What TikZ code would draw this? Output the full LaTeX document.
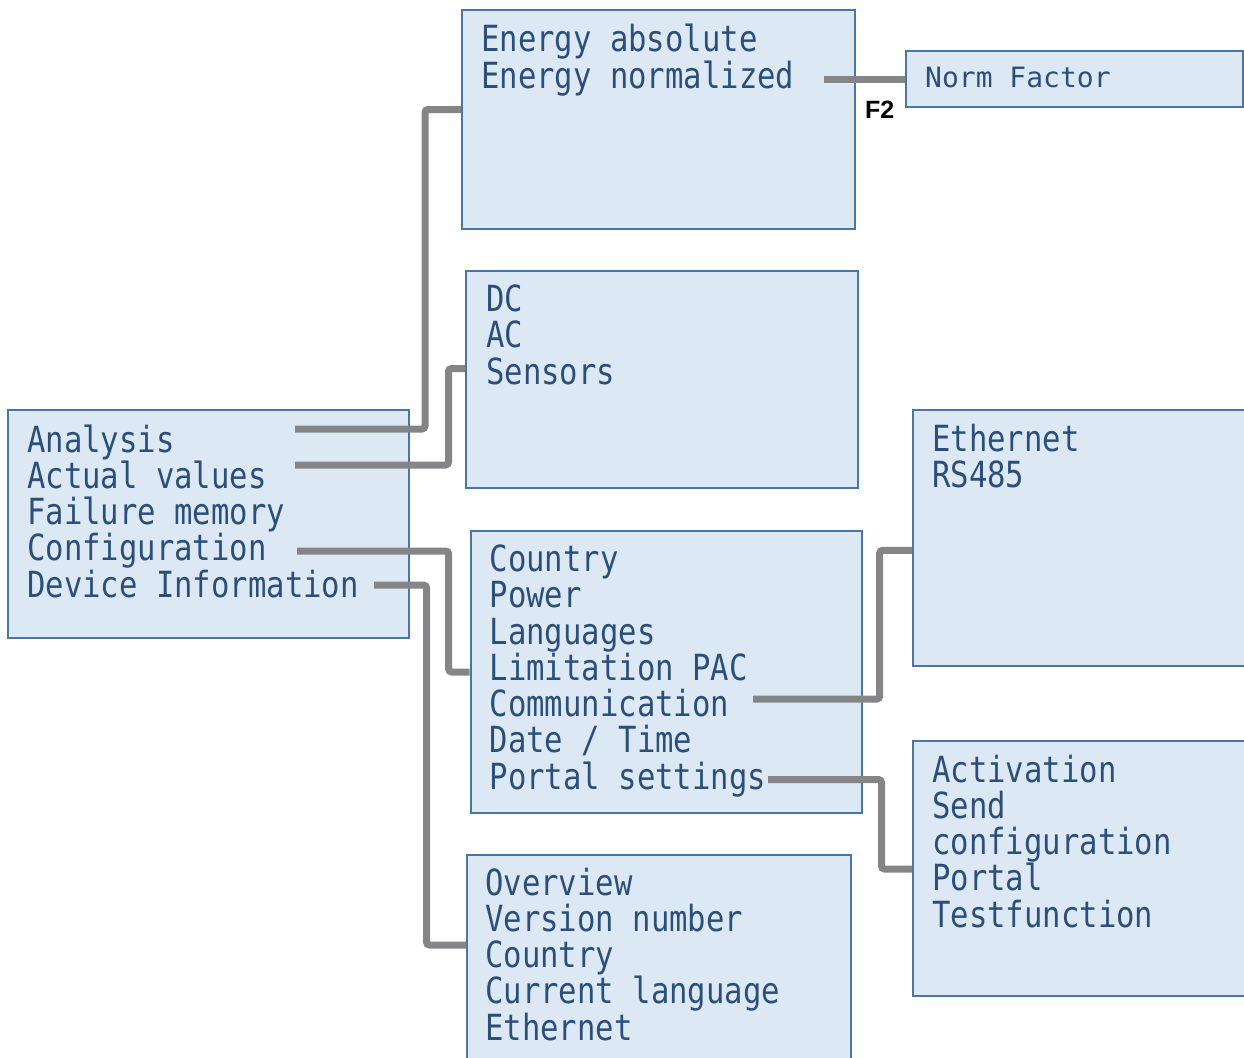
\documentclass[tikz,border=0pt]{standalone}
\usepackage{fontspec}
\usepackage{xcolor}
\usepackage{tikz}
\usetikzlibrary{positioning,calc}
\newfontfamily\lcdfont[FakeStretch=0.85]{DejaVu Sans Mono}
\newfontfamily\lcdwide{DejaVu Sans Mono}
\newfontfamily\keyfont{Liberation Sans}
\definecolor{boxline}{RGB}{74,118,164}
\definecolor{boxfill}{RGB}{221,232,245}
\definecolor{lcdtext}{RGB}{44,79,122}
\definecolor{linkgray}{RGB}{133,133,135}

\begin{document}
\begin{tikzpicture}[x=1pt, y=-1pt,
  box/.style={draw=boxline, fill=boxfill, line width=2pt, inner sep=0pt, anchor=north west},
  item/.style={font=\lcdfont\fontsize{36}{36}\selectfont, text=lcdtext, inner sep=0pt, anchor=base west},
  link/.style={draw=linkgray, line width=7pt, rounded corners=3pt}
]
\useasboundingbox (0,0) rectangle (1244,1057);
\clip (0,0) rectangle (1244,1057);
\node[box, minimum width=401pt, minimum height=228pt] (bxMain) at (7,409) {};
\node[box, minimum width=393pt, minimum height=218.5pt] (bxEnergy) at (461,9.5) {};
\node[box, minimum width=337pt, minimum height=55.5pt] (bxNorm) at (905,50.5) {};
\node[box, minimum width=392pt, minimum height=217pt] (bxValues) at (465,269.5) {};
\node[box, minimum width=391.5pt, minimum height=282.5pt] (bxConfig) at (469.5,529.5) {};
\node[box, minimum width=348pt, minimum height=256pt] (bxComm) at (912,408.5) {};
\node[box, minimum width=348pt, minimum height=255.5pt] (bxPortal) at (912,739.5) {};
\node[box, minimum width=384pt, minimum height=221.5pt] (bxInfo) at (466,853.5) {};
\foreach \t [count=\i] in {Analysis,Actual values,Failure memory,Configuration,Device Information}
  \node[item] (m\i) at (27,{452+36.25*(\i-1)}) {\t};
\foreach \t [count=\i] in {Energy absolute,Energy normalized}
  \node[item] (e\i) at (481,{52+36.25*(\i-1)}) {\t};
\foreach \t [count=\i] in {DC,AC,Sensors}
  \node[item] (v\i) at (486,{311.5+36.25*(\i-1)}) {\t};
\foreach \t [count=\i] in {Country,Power,Languages,Limitation PAC,Communication,Date / Time,Portal settings}
  \node[item] (c\i) at (489.5,{571.5+36.25*(\i-1)}) {\t};
\foreach \t [count=\i] in {Ethernet,RS485}
  \node[item] (n\i) at (932,{451+36.25*(\i-1)}) {\t};
\foreach \t [count=\i] in {Activation,Send,configuration,Portal,Testfunction}
  \node[item] (p\i) at (932,{782+36.25*(\i-1)}) {\t};
\foreach \t [count=\i] in {Overview,Version number,Country,Current language,Ethernet}
  \node[item] (d\i) at (485,{895+36.25*(\i-1)}) {\t};
\node[item, font=\lcdwide\fontsize{28}{28}\selectfont] (normf) at (925,87) {Norm Factor};
\node[inner sep=0pt, anchor=base west, font=\keyfont\bfseries\fontsize{25}{25}\selectfont] (keyF) at (865,118) {F2};
\coordinate (pAnl) at (295,429);
\coordinate (pAct) at (295,465);
\coordinate (pCfg) at (297,551);
\coordinate (pDev) at (374,585);
\coordinate (pNrm) at (824,79);
\coordinate (pCom) at (753,699);
\coordinate (pPrt) at (768,779.5);
\draw[link] (pAnl) -- ++(130,0) |- (bxEnergy.west |- 0,109.5);
\draw[link] (pAct) -- ++(153.5,0) |- (bxValues.west |- 0,368.5);
\draw[link] (pCfg) -- ++(151.7,0) |- (bxConfig.west |- 0,672);
\draw[link] (pDev) -- ++(52.5,0) |- (bxInfo.west |- 0,945);
\draw[link] (pNrm) -- (bxNorm.west |- pNrm);
\draw[link] (pCom) -- ++(126.7,0) |- (bxComm.west |- 0,550.3);
\draw[link] (pPrt) -- ++(113.5,0) |- (bxPortal.west |- 0,869);
\end{tikzpicture}
\end{document}
